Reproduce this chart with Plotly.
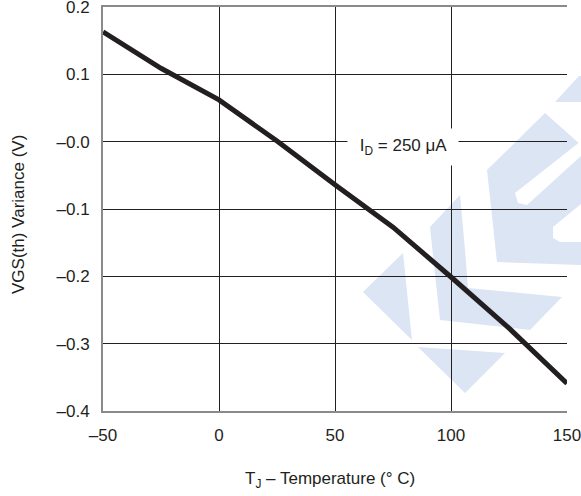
import plotly.graph_objects as go

# ---- data ----
temp_c = [-50, -25, 0, 25, 50, 75, 100, 125, 150]
vgs_var = [0.163, 0.109, 0.062, 0.001, -0.064, -0.127, -0.201, -0.277, -0.359]

x_ticks = [-50, 0, 50, 100, 150]
x_ticktext = ["\u201350", "0", "50", "100", "150"]
y_ticks = [-0.4, -0.3, -0.2, -0.1, 0.0, 0.1, 0.2]
y_ticktext = ["\u20130.4", "\u20130.3", "\u20130.2", "\u20130.1", "\u20130.0", "0.1", "0.2"]

W, H = 581, 496
L, R, T, B = 103, 14, 7, 85
PW, PH = W - L - R, H - T - B

def P(pts):
    s = ""
    for i, (px, py) in enumerate(pts):
        xx = (px - L) / PW
        yy = (H - B - py) / PH
        s += ("M" if i == 0 else "L") + f"{xx:.4f},{yy:.4f} "
    return s + "Z"

blue = "#dce5f4"
wm_blue = [
    [(555, 102), (579, 76), (581, 76), (581, 102)],
    [(487, 170), (545, 113), (581, 145), (581, 265), (497, 262)],
    [(430, 227), (460, 195), (465, 250), (468, 288), (562, 297), (530, 330), (440, 320)],
    [(403, 253), (363, 292), (412, 340)],
    [(418, 347), (505, 353), (465, 393)],
]
wm_white = [
    [(515, 193), (518, 203), (527, 205), (581, 156), (581, 141)],
    [(553, 227), (553, 238), (560, 242), (581, 242), (581, 204)],
]

shapes = []
for poly in wm_blue:
    shapes.append(dict(type="path", path=P(poly), xref="paper", yref="paper",
                       fillcolor=blue, line=dict(width=0), layer="below"))
for poly in wm_white:
    shapes.append(dict(type="path", path=P(poly), xref="paper", yref="paper",
                       fillcolor="white", line=dict(width=0), layer="below"))

fig = go.Figure()
fig.add_trace(go.Scatter(x=temp_c, y=vgs_var, mode="lines",
                         line=dict(color="#231f20", width=5), hoverinfo="skip",
                         showlegend=False, cliponaxis=True))

font = dict(family="Liberation Sans, Arial, sans-serif", size=17, color="#231f20")

fig.update_layout(
    width=W, height=H,
    margin=dict(l=L, r=R, t=T, b=B, autoexpand=False),
    paper_bgcolor="white", plot_bgcolor="rgba(0,0,0,0)",
    font=font,
    shapes=shapes,
    showlegend=False,
    xaxis=dict(range=[-50, 150], tickvals=x_ticks, ticktext=x_ticktext,
               showgrid=True, gridcolor="#231f20", gridwidth=1,
               zeroline=False, showline=True, linecolor="#8a8a8a", linewidth=2,
               mirror=True, ticks="outside", ticklen=0, ticklabelstandoff=8,
               ticklabeloverflow="allow",
               automargin=False, fixedrange=True),
    yaxis=dict(range=[-0.4, 0.2], tickvals=y_ticks, ticktext=y_ticktext,
               showgrid=True, gridcolor="#231f20", gridwidth=1,
               zeroline=False, showline=True, linecolor="#8a8a8a", linewidth=2,
               ticks="outside", ticklen=0, ticklabelstandoff=8,
               ticklabeloverflow="allow",
               automargin=False, fixedrange=True),
    annotations=[
        dict(x=79.3, y=-0.008, xref="x", yref="y", showarrow=False,
             xanchor="center", yanchor="middle",
             text="\u00a0I<sub>D</sub> = 250 \u03bcA\u00a0", bgcolor="white", borderpad=7,
             font=font),
        dict(x=(330 - L) / PW, y=(H - B - 480) / PH, xref="paper", yref="paper",
             xanchor="center", yanchor="middle",
             showarrow=False, text="T<sub>J</sub> \u2013 Temperature (\u00b0 C)",
             font=font),
        dict(x=(18 - L) / PW, y=(H - B - 215) / PH, xref="paper", yref="paper",
             xanchor="center", yanchor="middle",
             showarrow=False, text="VGS(th) Variance (V)", textangle=-90,
             font=font),
    ],
)

fig.write_html("out.html", config={"displayModeBar": False},
               post_script="document.body.style.margin='0';")
